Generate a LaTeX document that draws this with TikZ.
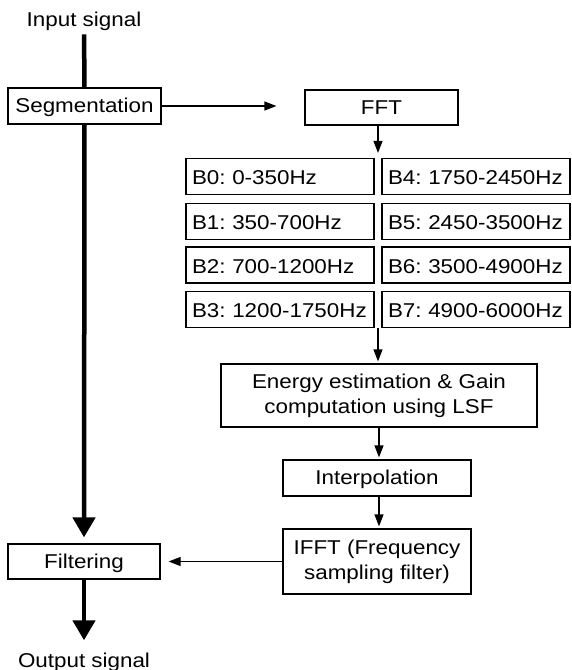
\documentclass[tikz,border=0pt]{standalone}
\usepackage{fontspec}
\newfontfamily\ff[FakeStretch=1.12]{Liberation Sans}
\usetikzlibrary{arrows.meta}
\begin{document}
\begin{tikzpicture}[x=1pt,y=-1pt,
  txt/.style={font=\ff\fontsize{20}{25}\selectfont\frenchspacing},
  lbl/.style={txt, inner sep=0pt},
  box/.style={txt, draw, line width=1.2pt, inner sep=0pt, align=center},
  onebox/.style={box, text height=14pt, text depth=1pt},
  band/.style={txt, draw, line width=1.2pt, minimum height=36pt,
     text width=176pt, inner xsep=6pt, inner ysep=0pt, align=left,
     text height=16pt, text depth=0pt},
  thinarrow/.style={line width=1.2pt, -{Triangle[length=12pt,width=9pt]}},
  thickarrow/.style={line width=4.5pt, -{Triangle[length=20pt,width=22pt]}},
  thickline/.style={line width=4.5pt}]
\useasboundingbox (0,0) rectangle (571,670);

\node[lbl, anchor=base] (input) at (84,26) {Input signal};
\node[onebox, minimum width=153pt, minimum height=36pt] (seg) at (84.5,106) {Segmentation};
\node[onebox, minimum width=153pt, minimum height=35pt] (fft) at (381.5,107.5) {FFT};

\coordinate (m) at (378,0);

\node[band] (b0) at (280,176.5) {B0: 0-350Hz};
\node[band] (b1) at (280,221.5) {B1: 350-700Hz};
\node[band] (b2) at (280,265) {B2: 700-1200Hz};
\node[band] (b3) at (280,309.5) {B3: 1200-1750Hz};
\node[band] (b4) at (476,176.5) {B4: 1750-2450Hz};
\node[band] (b5) at (476,221.5) {B5: 2450-3500Hz};
\node[band] (b6) at (476,265) {B6: 3500-4900Hz};
\node[band] (b7) at (476,309.5) {B7: 4900-6000Hz};

\node[box, minimum width=316pt, minimum height=63pt] (energy) at (379,395.5)
  {Energy estimation \& Gain\\computation using LSF};
\node[onebox, minimum width=188pt, minimum height=36pt] (interp) at (377,478) {Interpolation};
\node[box, minimum width=188pt, minimum height=65pt] (ifft) at (377,561.5)
  {IFFT (Frequency\\sampling filter)};
\node[onebox, minimum width=152pt, minimum height=35pt] (filt) at (84,561.5) {Filtering};
\node[lbl, anchor=base] (output) at (84,667) {Output signal};

% thick signal path
\draw[thickline, shorten <=4pt] (input.south) -- (seg.north);
\draw[thickarrow, shorten >=6pt] (seg.south) -- (filt.north);
\draw[thickarrow, shorten >=12pt] (filt.south) -- (output.north);

% thin connectors
\draw[thinarrow, shorten >=28pt] (seg.east) -- (seg.east -| fft.west);
\draw[thinarrow, shorten >=5pt] (fft.south -| m) -- (b0.north -| m);
\draw[thinarrow, shorten >=2pt] (b3.south -| m) -- (energy.north -| m);
\draw[thinarrow, shorten >=2pt] (energy.south) -- (interp.north -| energy.south);
\draw[thinarrow, shorten >=2pt] (interp.south -| energy.south) -- (ifft.north -| energy.south);
\draw[thinarrow, shorten >=8pt] (ifft.west) -- (filt.east |- ifft.west);
\end{tikzpicture}
\end{document}
